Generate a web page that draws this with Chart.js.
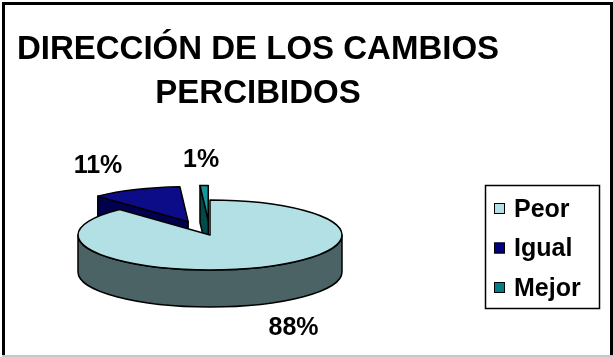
<!DOCTYPE html>
<html>
<head>
<meta charset="utf-8">
<script src="https://cdn.jsdelivr.net/npm/chart.js@4.4.0/dist/chart.umd.min.js"></script>
<style>
  html, body { margin: 0; padding: 0; background: #fff; }
  canvas { display: block; }
</style>
</head>
<body>
<canvas id="pie" width="613" height="357"></canvas>
<script>
const categories = ["Peor", "Igual", "Mejor"];
const shares = [88, 11, 1];
const titleLines = ["DIRECCIÓN DE LOS CAMBIOS", "PERCIBIDOS"];

const topColors = ["#b2e0e4", "#0c0c88", "#169696"];
const sideColors = ["#4b6364", "#00004c", "#004a4a"];
const keyColors = ["#b2e0e4", "#000080", "#008080"];
const explode = [0, 55, 55];
const TILT = 0.265, DEPTH = 37;
const FONT = '"Liberation Sans", Arial, sans-serif';

// where each slice sits once pulled out and squashed into an ellipse
function sliceGeom(arc, i) {
    const p = arc.getProps(["x", "y", "startAngle", "endAngle", "outerRadius"]);
    const mid = (p.startAngle + p.endAngle) / 2;
    return Object.assign(p, {
        arc: arc, i: i, mid: mid,
        sx: p.x + Math.cos(mid) * explode[i],
        sy: p.y + Math.sin(mid) * explode[i] * TILT
    });
}

function drawWalls(ctx, s) {
    const R = s.outerRadius, ry = R * TILT;
    ctx.fillStyle = sideColors[s.i];
    // cut faces that turn towards the viewer
    const faces = [];
    if (Math.cos(s.startAngle) < -1e-6) faces.push(s.startAngle);
    if (Math.cos(s.endAngle) > 1e-6) faces.push(s.endAngle);
    faces.forEach(a => {
        const ex = s.sx + Math.cos(a) * R, ey = s.sy + Math.sin(a) * ry;
        ctx.beginPath();
        ctx.moveTo(s.sx, s.sy);
        ctx.lineTo(ex, ey);
        ctx.lineTo(ex, ey + DEPTH);
        ctx.lineTo(s.sx, s.sy + DEPTH);
        ctx.closePath();
        ctx.fill();
        ctx.stroke();
    });
    // rim on the near half of the ellipse
    for (let k = -1; k <= 2; k++) {
        const a0 = Math.max(s.startAngle, k * 2 * Math.PI);
        const a1 = Math.min(s.endAngle, k * 2 * Math.PI + Math.PI);
        if (a1 <= a0) continue;
        ctx.beginPath();
        ctx.ellipse(s.sx, s.sy, R, ry, 0, a0, a1);
        ctx.ellipse(s.sx, s.sy + DEPTH, R, ry, 0, a1, a0, true);
        ctx.closePath();
        ctx.fill();
        ctx.stroke();
    }
}

const pie3d = {
    id: "pie3d",
    beforeDatasetsDraw(chart) {
        const ctx = chart.ctx;
        const slices = chart.getDatasetMeta(0).data.map(sliceGeom);
        slices.sort((a, b) => Math.sin(a.mid) - Math.sin(b.mid));
        ctx.save();
        ctx.lineWidth = 1.5;
        ctx.strokeStyle = "#000";
        ctx.lineJoin = "round";
        slices.forEach(s => {
            drawWalls(ctx, s);
            // top face: the arc element itself, flattened
            ctx.save();
            ctx.translate(s.sx, s.sy);
            ctx.scale(1, TILT);
            ctx.translate(-s.x, -s.y);
            s.arc.draw(ctx);
            ctx.restore();
            ctx.beginPath();
            ctx.moveTo(s.sx, s.sy);
            ctx.ellipse(s.sx, s.sy, s.outerRadius, s.outerRadius * TILT, 0, s.startAngle, s.endAngle);
            ctx.closePath();
            ctx.stroke();
        });
        ctx.restore();
        return false;
    }
};

const decor = {
    id: "decor",
    afterDraw(chart) {
        const ctx = chart.ctx;
        ctx.save();
        // frame
        ctx.fillStyle = "#000";
        ctx.fillRect(2, 2, 3, 354);
        ctx.fillRect(2, 2, 611, 3);
        ctx.fillRect(610, 2, 3, 354);
        ctx.fillStyle = "#c8c8c8";
        ctx.fillRect(2, 355, 611, 2);

        // title
        ctx.fillStyle = "#000";
        ctx.textAlign = "center";
        ctx.textBaseline = "alphabetic";
        ctx.font = "bold 33px " + FONT;
        titleLines.forEach((t, k) => ctx.fillText(t, 258, 59 + k * 44));

        // percentage labels
        const data = chart.data.datasets[0].data;
        const total = data.reduce((a, b) => a + b, 0);
        ctx.font = "bold 25px " + FONT;
        ctx.textBaseline = "middle";
        chart.getDatasetMeta(0).data.map(sliceGeom).forEach(s => {
            const r = s.outerRadius * 1.72;
            const lx = s.sx + Math.cos(s.mid) * r;
            const ly = s.sy + Math.sin(s.mid) * r * TILT + (Math.sin(s.mid) > 0 ? DEPTH : 0);
            ctx.fillText(Math.round(data[s.i] / total * 100) + "%", lx, ly);
        });

        // legend
        ctx.lineWidth = 1.5;
        ctx.strokeStyle = "#000";
        ctx.strokeRect(485.5, 185.5, 114, 123);
        ctx.textAlign = "left";
        ctx.font = "bold 25px " + FONT;
        chart.data.labels.forEach((lab, k) => {
            const y = 209 + k * 39.5;
            ctx.fillStyle = keyColors[k];
            ctx.fillRect(494, y - 6, 11, 11);
            ctx.lineWidth = 1;
            ctx.strokeRect(494.5, y - 5.5, 10, 10);
            ctx.fillStyle = "#000";
            ctx.fillText(lab, 514, y + 1);
        });
        ctx.restore();
    }
};

new Chart(document.getElementById("pie").getContext("2d"), {
    type: "pie",
    data: {
        labels: categories,
        datasets: [{ data: shares, backgroundColor: topColors, borderWidth: 0, clip: false }]
    },
    options: {
        responsive: false,
        animation: false,
        events: [],
        radius: 132,
        layout: { padding: { left: 0, right: 193, top: 113, bottom: 0 } },
        plugins: { legend: { display: false }, title: { display: false }, tooltip: { enabled: false } }
    },
    plugins: [pie3d, decor]
});
</script>
</body>
</html>
